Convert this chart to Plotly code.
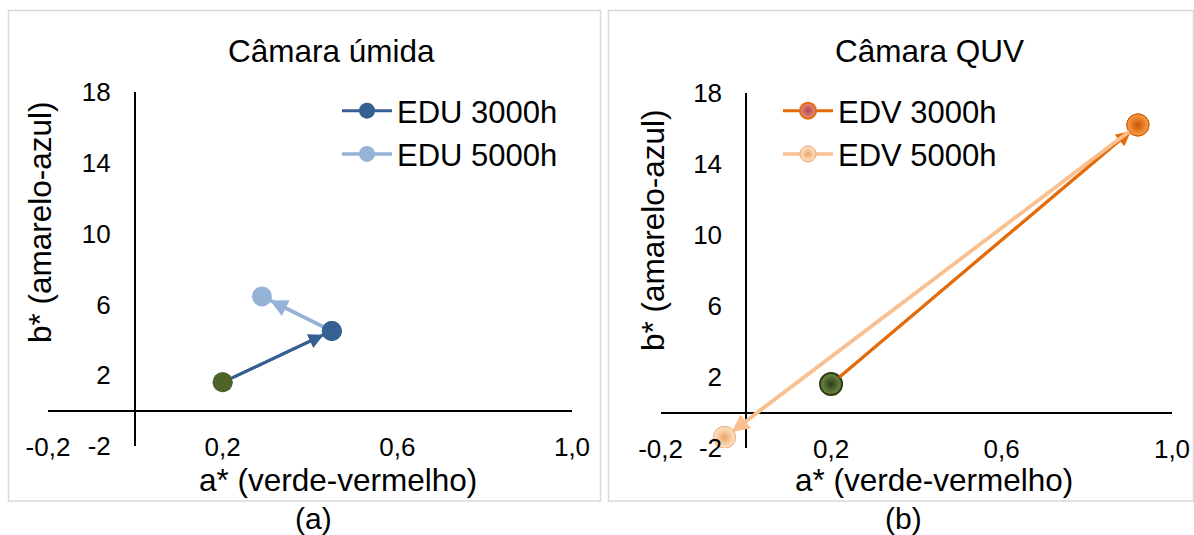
import plotly.graph_objects as go

# Coordenadas CIELab (a*, b*): ponto inicial, 3000 h e 5000 h
edu_names = ["EDU 3000h", "EDU 5000h"]
edu_a = [0.20, 0.45, 0.29]
edu_b = [1.6, 4.5, 6.45]

edv_names = ["EDV 3000h", "EDV 5000h"]
edv_a = [0.20, 0.92, -0.05]
edv_b = [1.6, 16.2, -1.4]

x_ticks = [-0.2, 0.2, 0.6, 1.0]
y_ticks = [-2, 2, 6, 10, 14, 18]
x_ticktext = [f"{v:.1f}".replace(".", ",") for v in x_ticks]
y_ticktext = [f"{v:d}" for v in y_ticks]

panel_titles = ["Câmara úmida", "Câmara QUV"]
panel_tags = ["(a)", "(b)"]
x_title = "a* (verde-vermelho)"
y_title = "b* (amarelo-azul)"

FONT = "Arial, Liberation Sans, sans-serif"
W, H = 1194, 535


def px(v):
    return v / W


def py(v):
    return 1 - v / H


fig = go.Figure()
annotations = []


def sphere(center, edge, size, line_color=None, line_width=0):
    return dict(symbol="circle", size=size, color=center,
                gradient=dict(type="radial", color=edge),
                line=dict(width=line_width, color=line_color or edge))


def add_panel(a, b, names, colors, widths, end_marker, legend_markers,
              start_marker, xa, ya, legend):
    # segmento 3000h -> 5000h
    fig.add_trace(go.Scatter(
        x=[a[1], a[2]], y=[b[1], b[2]], mode="lines+markers",
        name=names[1], legend=legend, legendrank=2,
        line=dict(color=colors[1], width=widths[1]),
        marker=legend_markers[1], xaxis=xa, yaxis=ya))
    # segmento inicial -> 3000h
    fig.add_trace(go.Scatter(
        x=[a[0], a[1]], y=[b[0], b[1]], mode="lines+markers",
        name=names[0], legend=legend, legendrank=1,
        line=dict(color=colors[0], width=widths[0]),
        marker=legend_markers[0], xaxis=xa, yaxis=ya))
    # marcador do ponto de 3000h
    fig.add_trace(go.Scatter(
        x=[a[1]], y=[b[1]], mode="markers", showlegend=False,
        marker=end_marker, xaxis=xa, yaxis=ya))
    # ponto inicial
    fig.add_trace(go.Scatter(
        x=[a[0]], y=[b[0]], mode="markers", showlegend=False,
        marker=start_marker, xaxis=xa, yaxis=ya))
    # pontas de seta
    for i in (1, 2):
        annotations.append(dict(
            x=a[i], y=b[i], ax=a[i - 1], ay=b[i - 1],
            xref=xa, yref=ya, axref=xa, ayref=ya,
            text="", showarrow=True, arrowhead=2, arrowsize=1.0,
            arrowwidth=widths[i - 1], arrowcolor=colors[i - 1],
            standoff=9, startstandoff=9))


# Painel (a): câmara úmida
blue_dark, blue_light = "#376092", "#95B3D7"
add_panel(
    edu_a, edu_b, edu_names, [blue_dark, blue_light], [3, 3.5],
    end_marker=dict(symbol="circle", size=20, color=blue_dark),
    legend_markers=[dict(symbol="circle", size=20, color=blue_dark),
                    dict(symbol="circle", size=20, color=blue_light)],
    start_marker=dict(symbol="circle", size=20, color="#4F6228"),
    xa="x", ya="y", legend="legend")

# Painel (b): câmara QUV
orange, peach = "#E46C0A", "#FAC090"
add_panel(
    edv_a, edv_b, edv_names, [orange, peach], [3, 3.5],
    end_marker=sphere("#FF9C45", "#C65806", 22, "#C65806", 1),
    legend_markers=[sphere("#E58C8C", "#B34848", 21, orange, 2),
                    sphere("#FFE6CC", "#E9A566", 22, "#E9A566", 1)],
    start_marker=sphere("#708E46", "#2E3D15", 22, "#2E3D15", 2),
    xa="x2", ya="y2", legend="legend2")

tick_font = dict(family=FONT, size=26, color="#000000")
ax_common = dict(showgrid=False, zeroline=False, showline=False, ticks="",
                 tickvals=x_ticks, ticktext=x_ticktext, range=[-0.2, 1.0],
                 tickfont=tick_font, ticklabelstandoff=-17, automargin=False)
ay_common = dict(showgrid=False, zeroline=True, zerolinecolor="#000000",
                 zerolinewidth=1.5, showline=True, linecolor="#000000",
                 linewidth=1.5, ticks="", tickvals=y_ticks,
                 ticktext=y_ticktext, range=[-2, 18],
                 tickfont=tick_font, anchor="free", ticklabelstandoff=18,
                 automargin=False)

fig.update_layout(
    xaxis=dict(domain=[px(48), px(572)], anchor="y", **ax_common),
    yaxis=dict(domain=[py(446), py(92)], position=px(134.7), **ay_common),
    xaxis2=dict(domain=[px(660.6), px(1172)], anchor="y2", **ax_common),
    yaxis2=dict(domain=[py(448), py(93)], position=px(746), **ay_common),
)

legend_common = dict(font=dict(family=FONT, size=31, color="#000000"),
                     bgcolor="rgba(0,0,0,0)", itemwidth=50,
                     xanchor="left", yanchor="top", tracegroupgap=0,
                     traceorder="normal")
fig.update_layout(
    legend=dict(x=px(337), y=py(84), **legend_common),
    legend2=dict(x=px(778), y=py(84), **legend_common),
)

text_font = dict(family=FONT, size=31.5, color="#000000")
centers = [(331.6, 337.7, 40, 222, 313), (929, 934, 653, 230, 903)]
for k, (tx, xx, yx, yy, gx) in enumerate(centers):
    common = dict(xref="paper", yref="paper", showarrow=False,
                  xanchor="center", yanchor="middle")
    annotations += [
        dict(x=px(tx), y=py(51), text=panel_titles[k], font=text_font,
             **common),
        dict(x=px(xx), y=py(480), text=x_title, font=text_font, **common),
        dict(x=px(yx), y=py(yy), text=y_title, font=text_font,
             textangle=-90, **common),
        dict(x=px(gx), y=py(518), text=panel_tags[k],
             font=dict(family=FONT, size=30, color="#000000"), **common),
    ]

shapes = [
    dict(type="rect", xref="paper", yref="paper",
         x0=px(8.5), x1=px(600.5), y0=py(501), y1=py(10.5),
         line=dict(color="#D9D9D9", width=1.5)),
    dict(type="rect", xref="paper", yref="paper",
         x0=px(608.5), x1=px(1193.5), y0=py(501), y1=py(10.5),
         line=dict(color="#D9D9D9", width=1.5)),
]

fig.update_layout(
    width=W, height=H,
    margin=dict(l=0, r=0, t=0, b=0, pad=0, autoexpand=False),
    paper_bgcolor="#FFFFFF", plot_bgcolor="rgba(0,0,0,0)",
    annotations=annotations, shapes=shapes,
    font=dict(family=FONT, color="#000000"),
)

fig.write_html("out.html")
